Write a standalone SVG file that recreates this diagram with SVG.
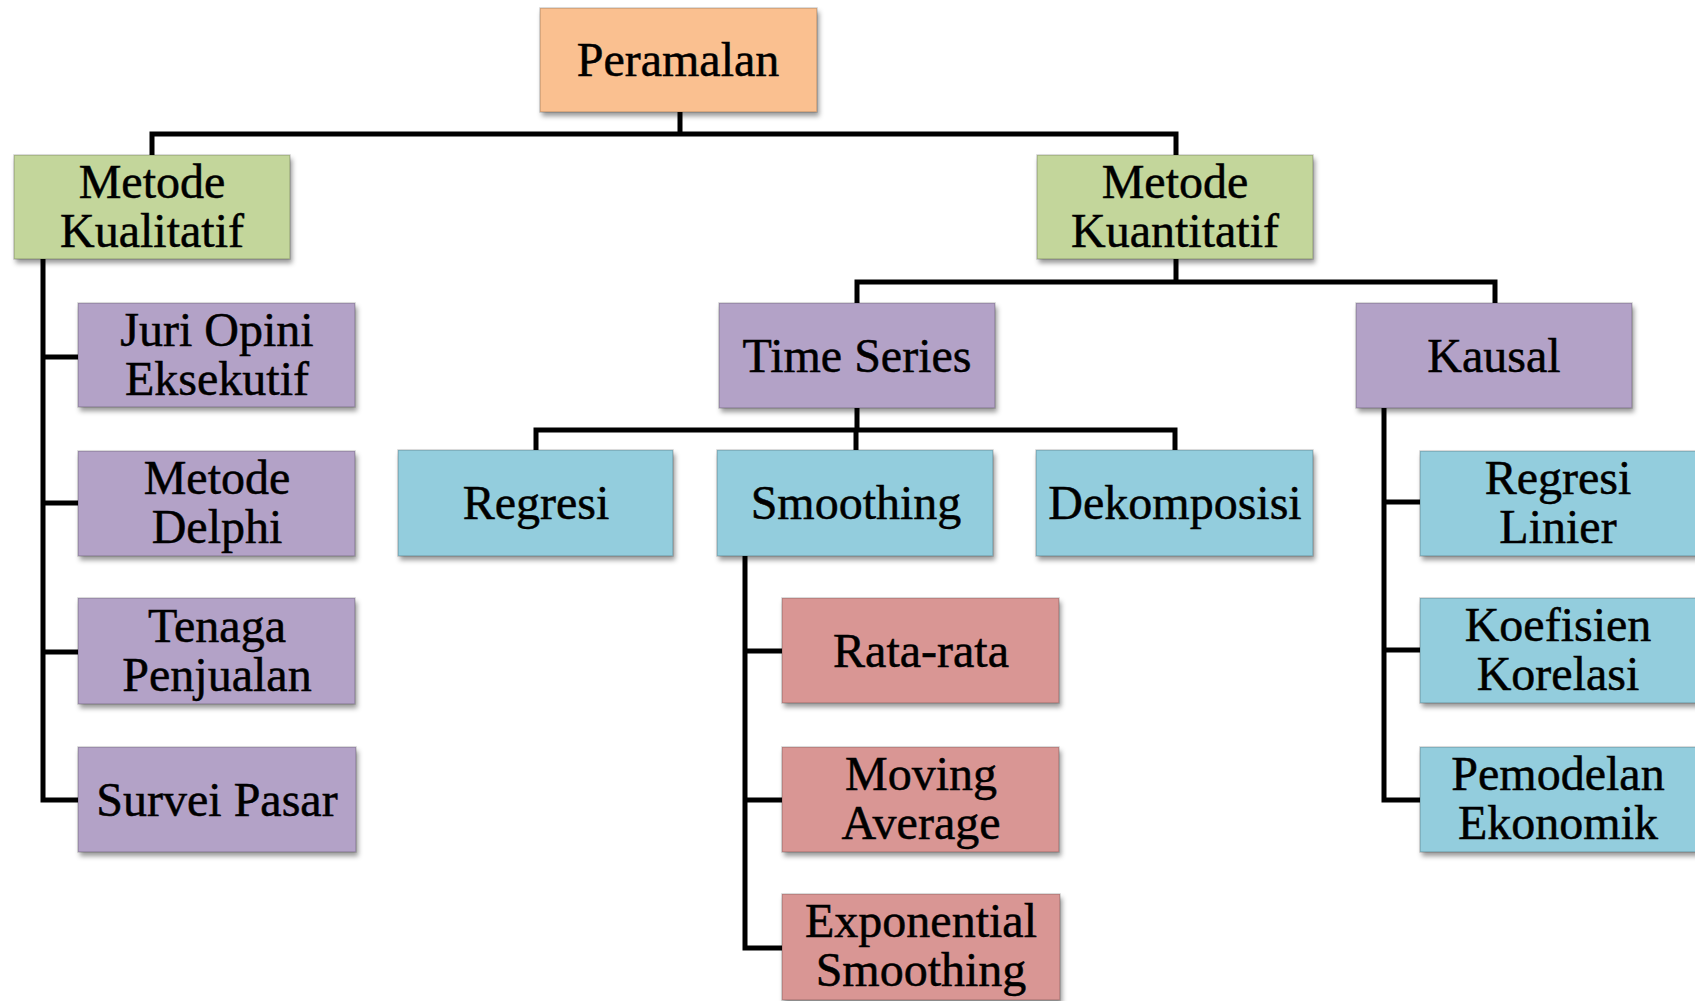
<svg xmlns="http://www.w3.org/2000/svg" width="1695" height="1001" viewBox="0 0 1695 1001">
<style>
.box{stroke:#000;stroke-opacity:0.18;stroke-width:1.5;filter:url(#sh)}
.t{font-family:"Liberation Serif","DejaVu Serif",serif;font-size:48px;fill:#000;stroke:#000;stroke-width:0.5;text-anchor:middle}
.c{fill:none;stroke:#000;stroke-width:5;stroke-linejoin:miter;stroke-linecap:square}
.or{fill:#FAC090}.gr{fill:#C3D69B}.pu{fill:#B3A2C7}.bl{fill:#93CDDD}.rd{fill:#D99694}
</style>
<defs>
<filter id="sh" x="-10%" y="-10%" width="130%" height="140%">
<feDropShadow dx="2" dy="4" stdDeviation="2.5" flood-color="#000" flood-opacity="0.4"/>
</filter>
</defs>
<rect width="1695" height="1001" fill="#fff"/>
<g id="connectors">
<path class="c" d="M680,112 V134 M152,155 V134 H1176 V155"/>
<path class="c" d="M1176,259 V282 M857,303 V282 H1495 V303"/>
<path class="c" d="M857,408 V430 M536,450 V430 H1175 V450 M856,430 V450"/>
<path class="c" d="M43,259 V800 H78 M43,357 H78 M43,503 H78 M43,652 H78"/>
<path class="c" d="M745,556 V948 H782 M745,651 H782 M745,800 H782"/>
<path class="c" d="M1384,408 V800 H1420 M1384,502 H1420 M1384,650 H1420"/>
</g>
<g id="peramalan"><rect class="box or" x="540" y="8" width="277" height="104"/><text class="t" x="678" y="76">Peramalan</text></g>
<g id="kualitatif"><rect class="box gr" x="14" y="155" width="276" height="104"/><text class="t" x="152" y="198">Metode</text><text class="t" x="152" y="247">Kualitatif</text></g>
<g id="kuantitatif"><rect class="box gr" x="1037" y="155" width="276" height="104"/><text class="t" x="1175" y="198">Metode</text><text class="t" x="1175" y="247">Kuantitatif</text></g>
<g id="juri"><rect class="box pu" x="78" y="303" width="277" height="104"/><text class="t" x="217" y="346">Juri Opini</text><text class="t" x="217" y="395">Eksekutif</text></g>
<g id="delphi"><rect class="box pu" x="78" y="451" width="277" height="105"/><text class="t" x="217" y="494">Metode</text><text class="t" x="217" y="543">Delphi</text></g>
<g id="tenaga"><rect class="box pu" x="78" y="598" width="277" height="106"/><text class="t" x="217" y="642">Tenaga</text><text class="t" x="217" y="691">Penjualan</text></g>
<g id="survei"><rect class="box pu" x="78" y="747" width="278" height="105"/><text class="t" x="217" y="816">Survei Pasar</text></g>
<g id="timeseries"><rect class="box pu" x="719" y="303" width="276" height="105"/><text class="t" x="857" y="372">Time Series</text></g>
<g id="kausal"><rect class="box pu" x="1356" y="303" width="276" height="105"/><text class="t" x="1494" y="372">Kausal</text></g>
<g id="regresi"><rect class="box bl" x="398" y="450" width="275" height="106"/><text class="t" x="536" y="519">Regresi</text></g>
<g id="smoothing"><rect class="box bl" x="717" y="450" width="276" height="106"/><text class="t" x="856" y="519">Smoothing</text></g>
<g id="dekomposisi"><rect class="box bl" x="1036" y="450" width="277" height="106"/><text class="t" x="1175" y="519">Dekomposisi</text></g>
<g id="ratarata"><rect class="box rd" x="782" y="598" width="277" height="105"/><text class="t" x="921" y="667">Rata-rata</text></g>
<g id="movingaverage"><rect class="box rd" x="782" y="747" width="277" height="105"/><text class="t" x="921" y="790">Moving</text><text class="t" x="921" y="839">Average</text></g>
<g id="exponential"><rect class="box rd" x="782" y="894" width="278" height="106"/><text class="t" x="921" y="937">Exponential</text><text class="t" x="921" y="986">Smoothing</text></g>
<g id="regresilinier"><rect class="box bl" x="1420" y="451" width="280" height="105"/><text class="t" x="1558" y="494">Regresi</text><text class="t" x="1558" y="543">Linier</text></g>
<g id="koefisien"><rect class="box bl" x="1420" y="598" width="280" height="105"/><text class="t" x="1558" y="641">Koefisien</text><text class="t" x="1558" y="690">Korelasi</text></g>
<g id="pemodelan"><rect class="box bl" x="1420" y="747" width="280" height="105"/><text class="t" x="1558" y="790">Pemodelan</text><text class="t" x="1558" y="839">Ekonomik</text></g>
</svg>
